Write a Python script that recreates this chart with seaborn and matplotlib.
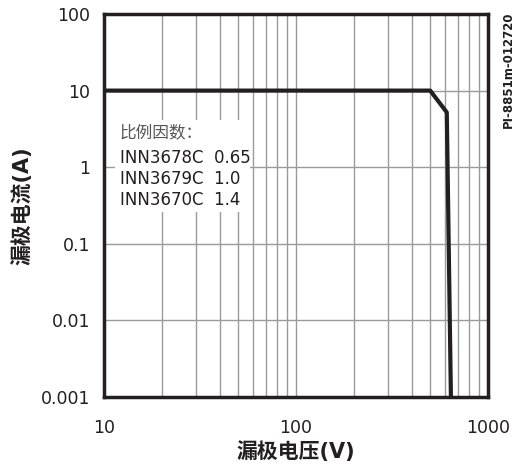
import matplotlib
matplotlib.use("Agg")
import matplotlib.pyplot as plt
import seaborn as sns
import pandas as pd
from matplotlib.ticker import LogLocator, FixedLocator, NullFormatter
from matplotlib.patches import Rectangle

# data
voltage = [10, 500, 610, 641]
current = [10, 10, 5.2, 0.001]
x_ticks = [10, 100, 1000]
x_labels = ["10", "100", "1000"]
y_ticks = [0.001, 0.01, 0.1, 1, 10, 100]
y_labels = ["0.001", "0.01", "0.1", "1", "10", "100"]
legend_title = "比例因数："
legend_lines = ["INN3678C  0.65", "INN3679C  1.0", "INN3670C  1.4"]

sns.set_style("white")
plt.rcParams['font.family'] = ['DejaVu Sans', 'Noto Sans CJK SC']

fig = plt.figure(figsize=(5.16, 4.68), dpi=100)
ax = fig.add_axes([104/516, 1-397/468, (488-104)/516, (397-14)/468])

df = pd.DataFrame({"v": voltage, "i": current})
sns.lineplot(data=df, x="v", y="i", ax=ax, color="#231f20", linewidth=3,
             sort=False, zorder=5)
ax.set_xscale("log")
ax.set_yscale("log")
ax.set_xlim(10, 1000)
ax.set_ylim(0.001, 100)

ax.xaxis.set_major_locator(FixedLocator(x_ticks))
ax.set_xticklabels(x_labels)
ax.xaxis.set_minor_locator(LogLocator(base=10, subs=range(2, 10)))
ax.xaxis.set_minor_formatter(NullFormatter())
ax.yaxis.set_major_locator(FixedLocator(y_ticks))
ax.set_yticklabels(y_labels)
ax.yaxis.set_minor_locator(FixedLocator([]))

ax.grid(True, which="major", color="#9a9a9a", linewidth=1)
ax.grid(True, which="minor", axis="x", color="#9a9a9a", linewidth=1)
ax.tick_params(axis="both", which="both", length=0, labelsize=12.5,
               colors="#231f20")
ax.tick_params(axis="x", pad=16)
ax.tick_params(axis="y", pad=10)

for s in ax.spines.values():
    s.set_linewidth(2.5)
    s.set_color("#231f20")
    s.set_zorder(6)

ax.set_xlabel("漏极电压(V)", fontsize=15, fontweight="bold", color="#231f20", labelpad=3)
ax.set_ylabel("漏极电流(A)", fontsize=15, fontweight="bold", color="#231f20", labelpad=6)

# white box behind legend text
box_bg = Rectangle((115/516, 1-212/468), (250-115)/516, (212-120)/468,
                   transform=fig.transFigure, facecolor="white", edgecolor="none",
                   zorder=3)
ax.add_artist(box_bg)

fig.text(120/516, 1-132/468, legend_title, fontsize=12, color="#555555",
         va="center", ha="left", zorder=7)
for k, t in enumerate(legend_lines):
    fig.text(120/516, 1-(158+k*21)/468, t, fontsize=12, color="#231f20",
             va="center", ha="left", zorder=7)

fig.text(508/516, 1-70/468, "PI-8851m-012720", rotation=90, fontsize=8.5,
         fontweight="bold", color="#231f20", ha="center", va="center")

fig.savefig("out.png", dpi=100)
